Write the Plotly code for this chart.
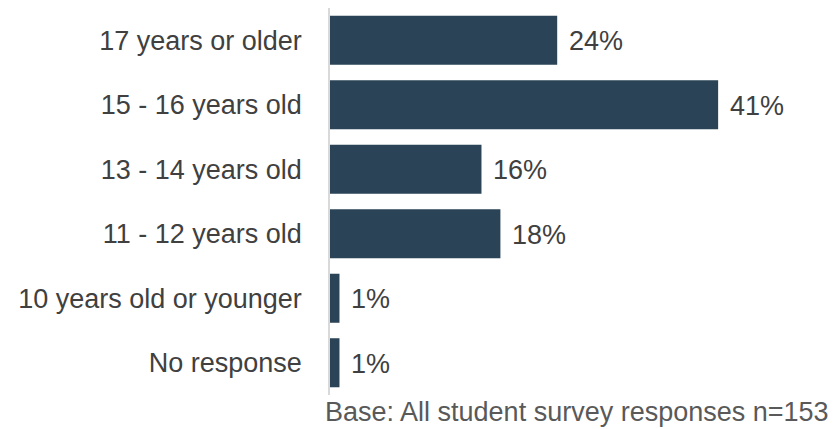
import plotly.graph_objects as go

# Age groups of survey respondents, listed top to bottom
categories = [
    "17 years or older",
    "15 - 16 years old",
    "13 - 14 years old",
    "11 - 12 years old",
    "10 years old or younger",
    "No response",
]
percentages = [24, 41, 16, 18, 1, 1]

bar_color = "#2A4356"
text_color = "#404040"
note_color = "#595959"
font_family = "Liberation Sans, Arial, sans-serif"

fig = go.Figure()
fig.add_trace(
    go.Bar(
        x=percentages,
        y=categories,
        orientation="h",
        marker=dict(color=bar_color, line=dict(width=0)),
        hoverinfo="skip",
    )
)

# Value labels to the right of each bar
for cat, val in zip(categories, percentages):
    fig.add_annotation(
        x=val,
        y=cat,
        xref="x",
        yref="y",
        text=f"{val}%",
        showarrow=False,
        xanchor="left",
        yanchor="middle",
        xshift=10,
        yshift=-1,
        font=dict(family=font_family, size=27, color=text_color),
    )

# Base note under the chart
fig.add_annotation(
    x=1,
    y=0,
    xref="paper",
    yref="paper",
    text="Base: All student survey responses n=153",
    showarrow=False,
    xanchor="right",
    yanchor="top",
    xshift=75,
    yshift=0,
    font=dict(family=font_family, size=27, color=note_color),
)

fig.update_layout(
    width=839,
    height=429,
    margin=dict(l=330, r=83, t=8, b=34),
    paper_bgcolor="white",
    plot_bgcolor="white",
    bargap=0.24,
    showlegend=False,
    font=dict(family=font_family, color=text_color),
    xaxis=dict(
        range=[0, 45],
        visible=False,
        fixedrange=True,
    ),
    yaxis=dict(
        autorange="reversed",
        showline=True,
        linecolor="#D9D9D9",
        linewidth=1.5,
        showgrid=False,
        zeroline=False,
        ticks="",
        ticklabelstandoff=21,
        tickfont=dict(family=font_family, size=27, color=text_color),
        fixedrange=True,
    ),
)

fig.write_html("out.html")
